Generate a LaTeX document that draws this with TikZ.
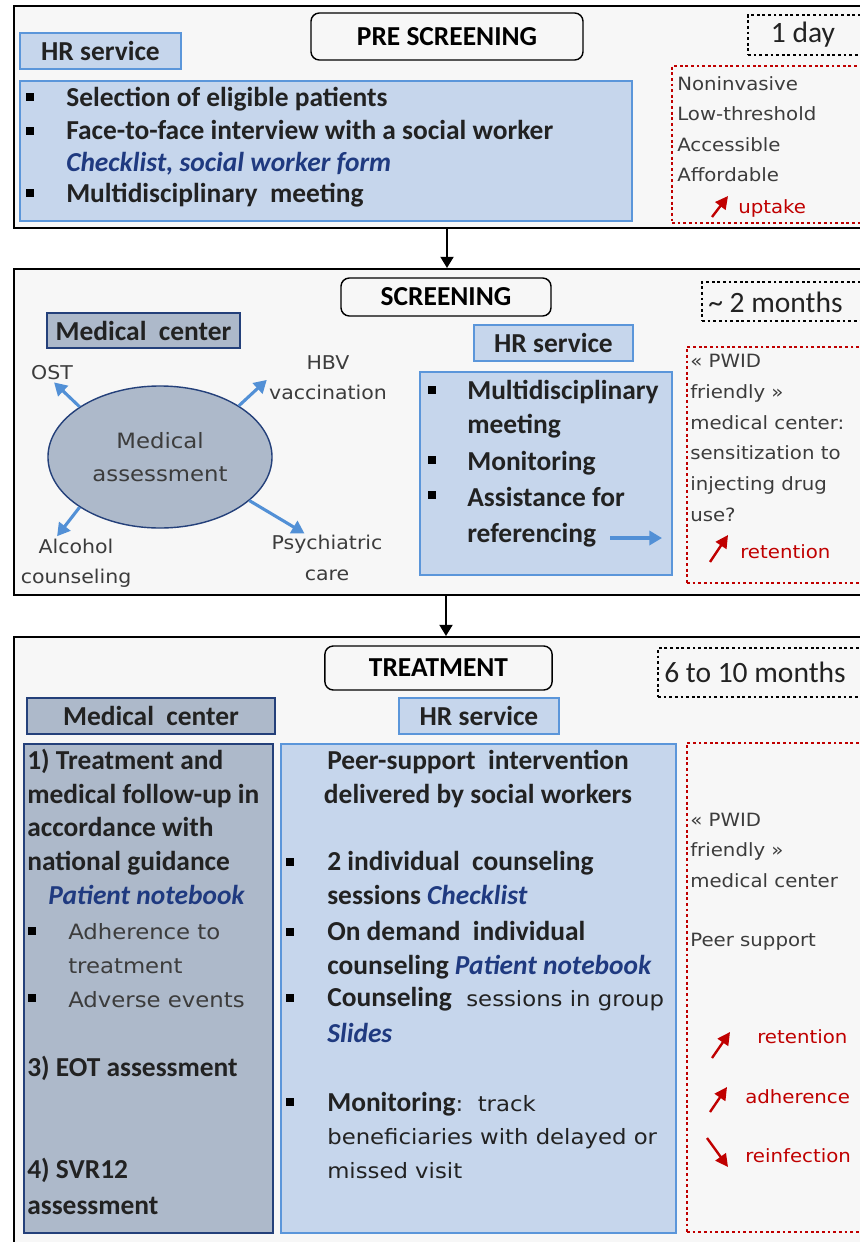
\documentclass[tikz,border=0pt]{standalone}
\usepackage{fontspec}
\setmainfont{Carlito}
\newfontfamily\litefont[FakeStretch=1.08]{DejaVu Sans}
\usetikzlibrary{arrows.meta,fit,shapes.geometric}
\definecolor{panelbg}{HTML}{F7F7F7}
\definecolor{txt}{HTML}{222222}
\definecolor{ltxt}{HTML}{3C3C3C}
\definecolor{hrfill}{HTML}{C6D6EC}
\definecolor{hrline}{HTML}{5B96DA}
\definecolor{mcfill}{HTML}{ADB9CA}
\definecolor{mcline}{HTML}{24407A}
\definecolor{noteblue}{HTML}{1F3A80}
\definecolor{effred}{HTML}{C00000}
\definecolor{arrblue}{HTML}{5290D6}
\newcommand\bsz[1]{\fontsize{19.5}{#1}\selectfont\bfseries}
\newcommand\lsz[2]{\litefont\fontsize{#1}{#2}\selectfont\mdseries\upshape}
\newcommand\tool[1]{{\color{noteblue}\bfseries\itshape #1}}
\tikzset{
  panel/.style={draw=black,line width=1.3pt,fill=panelbg,inner sep=0pt},
  stagebox/.style={draw=black,line width=1pt,rounded corners=6pt,fill=panelbg,font=\bsz{23},text=black},
  hrtag/.style={draw=hrline,line width=1pt,fill=hrfill,font=\bsz{23},text=txt},
  mctag/.style={draw=mcline,line width=1pt,fill=mcfill,font=\bsz{23},text=txt},
  hrarea/.style={draw=hrline,line width=1pt,fill=hrfill,inner sep=0pt},
  mcarea/.style={draw=mcline,line width=1pt,fill=mcfill,inner sep=0pt},
  durbox/.style={draw=black,line width=2pt,dash pattern=on 2pt off 2pt,inner sep=0pt},
  effbox/.style={draw=effred,line width=2pt,dash pattern=on 2pt off 2pt,inner sep=0pt},
  dtxt/.style={font=\fontsize{21}{25}\selectfont,text=txt,inner sep=0pt},
  bt/.style={font=\bsz{22.7},text=txt,inner sep=0pt,align=left,anchor=base west},
  lt/.style={font=\lsz{13}{21.6},text=ltxt,inner sep=0pt,align=left},
  rt/.style={lt,text=effred,anchor=base west},
  bsq/.style={fill=black,minimum size=5pt,inner sep=0pt},
  mcell/.style={ellipse,draw=mcline,line width=1pt,fill=mcfill,minimum width=5.6cm,minimum height=3.55cm,
    inner sep=0pt,font=\lsz{15}{23},text=ltxt,align=center},
  barrow/.style={draw=arrblue,line width=2.2pt,shorten >=2pt,-{Triangle[length=9pt,width=10pt]}},
  rarrow/.style={draw=effred,line width=1.7pt,-{Triangle[length=9pt,width=9pt]}},
  flow/.style={draw=black,line width=2pt,-{Triangle[length=8pt,width=9pt]}}
}
\begin{document}
\begin{tikzpicture}[x=0.025cm,y=-0.025cm]
\useasboundingbox (0,0) rectangle (860,1242);
% pre screening
\node[panel,fit={(14,6) (880,228)}] (pre) {};
\node[stagebox,minimum width=6.8cm,minimum height=1.175cm] (pretitle) at (447,36.5) {PRE SCREENING};
\node[durbox,fit={(748,15) (880,55)}] (preday) {};
\node[dtxt] (predaytxt) at (803,35) {1 day};
\node[hrtag,minimum width=4.03cm,minimum height=0.9cm] (prehr) at (100.5,51) {HR service};
\node[hrarea,fit={(20,81) (632,221)}] (prebox) {};
\foreach \y [count=\i] in {97,131,193}
  \node[bsq] (preb\i) at (30,\y) {};
\node[bt] (pret1) at (66,107) {Selection of eligible patients};
\node[bt] (pret2) at (66,171) {Face-to-face interview with a social worker\\\tool{Checklist, social worker form}};
\node[bt] (pret3) at (66,202) {Multidisciplinary\ \ meeting};
\node[effbox,fit={(672,66) (880,223)}] (preeff) {};
\node[lt,anchor=base west] (preefftxt) at (677,181.5) {Noninvasive\\Low-threshold\\Accessible\\Affordable};
\coordinate (preup) at (712,217);
\draw[rarrow] (preup) -- ++(16,-21);
\node[rt] (preupt) at (738,213) {uptake};
% screening
\node[panel,fit={(14,269) (880,595)}] (scr) {};
\node[stagebox,minimum width=5.25cm,minimum height=0.95cm] (scrtitle) at (446,297) {SCREENING};
\node[durbox,fit={(702,282) (880,321)}] (scrdur) {};
\node[dtxt,anchor=west] (scrdurtxt) at (708,302) {\textasciitilde\ 2 months};
\node[mctag,minimum width=4.83cm,minimum height=0.875cm] (scrmc) at (143.5,330.5) {Medical\ \ center};
\node[mcell] (ell) at (160,457) {Medical\\assessment};
\node[lt,font=\lsz{13.5}{21.5}] (ost) at (52,373) {OST};
\node[lt,font=\lsz{13.5}{21.5},align=center] (hbv) at (328,378) {HBV\\vaccination};
\node[lt,font=\lsz{13.5}{21.5},align=center] (alc) at (76,563) {Alcohol\\counseling};
\node[lt,font=\lsz{13.5}{22},align=center] (psy) at (327,558) {Psychiatric\\care};
\draw[barrow] (ell.148) -- (ost.south);
\draw[barrow] (ell.33) -- (hbv.west);
\draw[barrow] (ell.212) -- (alc.130);
\draw[barrow] (ell.334) -- (psy.131);
\node[hrtag,minimum width=3.98cm,minimum height=0.9cm] (scrhr) at (553.5,343) {HR service};
\node[hrarea,fit={(420,372) (672,575)}] (scrbox) {};
\foreach \y [count=\i] in {390,460,495}
  \node[bsq] (scrb\i) at (432,\y) {};
\node[bt,font=\bsz{24.5}] (scrt1) at (467,433.5) {Multidisciplinary\\meeting};
\node[bt] (scrt2) at (467,470) {Monitoring};
\node[bt,font=\bsz{25.5}] (scrt3) at (467,542) {Assistance for\\referencing};
\coordinate (refer) at (610,538);
\draw[barrow,shorten >=0pt] (refer) -- ++(52,0);
\node[effbox,fit={(687,347) (880,583)}] (screff) {};
\node[lt,font=\lsz{13}{21.8},anchor=base west] (screfftxt) at (690,521)
  {«~PWID\\friendly~»\\medical center:\\sensitization to\\injecting drug\\use?};
\coordinate (scrup) at (710,562);
\draw[rarrow] (scrup) -- ++(18,-27);
\node[rt] (scrret) at (740,558) {retention};
% treatment
\node[panel,fit={(14,637) (880,1260)}] (trt) {};
\node[stagebox,minimum width=5.68cm,minimum height=1.1cm] (trttitle) at (438.5,668) {TREATMENT};
\node[durbox,fit={(658,648) (880,697)}] (trtdur) {};
\node[dtxt,anchor=west] (trtdurtxt) at (664,672) {6 to 10 months};
\node[mctag,minimum width=6.2cm,minimum height=0.9cm] (trtmc) at (151,716) {Medical\ \ center};
\node[hrtag,minimum width=4cm,minimum height=0.9cm] (trthr) at (479,716) {HR service};
\node[mcarea,fit={(24,744) (273,1233)}] (mcbox) {};
\node[hrarea,fit={(281,744) (676,1233)}] (hrbox) {};
\node[effbox,fit={(687,743) (880,1232)}] (trteff) {};
% medical center column
\node[bt,font=\bsz{24}] (mct1) at (27,870.5) {1) Treatment and\\medical follow-up in\\accordance with\\national guidance};
\node[bt] (mct2) at (48,904) {\tool{Patient notebook}};
\foreach \y [count=\i] in {931,998}
  \node[bsq] (mcb\i) at (32,\y) {};
\node[lt,font=\lsz{15}{24},anchor=base west] (mct3) at (68,973) {Adherence to\\treatment};
\node[lt,font=\lsz{15}{24},anchor=base west] (mct4) at (68,1007) {Adverse events};
\node[bt] (mct5) at (27,1076) {3) EOT assessment};
\node[bt,font=\bsz{25}] (mct6) at (27,1214) {4) SVR12\\assessment};
% HR service column
\node[bt,font=\bsz{24},align=center,anchor=base] (hrt0) at (478,803) {Peer-support\ \ intervention\\delivered by social workers};
\foreach \y [count=\i] in {862,932,998,1102}
  \node[bsq] (hrb\i) at (290,\y) {};
\node[bt,font=\bsz{23.5}] (hrt1) at (327,904) {2 individual\ \ counseling\\sessions \tool{Checklist}};
\node[bt,font=\bsz{24}] (hrt2) at (327,974) {On demand\ \ individual\\counseling \tool{Patient notebook}};
\node[bt,font=\bsz{25}] (hrt3) at (327,1042) {Counseling\lsz{15}{24} \ sessions in group\\\tool{Slides}};
\node[bt,font=\bsz{23.5}] (hrt4) at (327,1178)
  {Monitoring\lsz{15}{24}:\ \ track\\\lsz{15}{24}beneficiaries with delayed or\\\lsz{15}{24}missed visit};
% effects
\node[lt,anchor=base west] (trtefft) at (690,887) {«~PWID\\friendly~»\\medical center};
\node[lt,anchor=base west] (peer) at (690,946) {Peer support};
\coordinate (trtup1) at (712,1058);
\draw[rarrow] (trtup1) -- ++(18,-26);
\node[rt] (trtret) at (757,1043) {retention};
\coordinate (trtup2) at (710,1112);
\draw[rarrow] (trtup2) -- ++(17,-25);
\node[rt] (trtadh) at (745,1103) {adherence};
\coordinate (trtdn) at (707,1138);
\draw[rarrow] (trtdn) -- ++(21,29);
\node[rt] (trtrei) at (745,1162) {reinfection};
% flow between phases
\draw[flow] (pre.south -| pretitle.south) -- (scr.north -| pretitle.south);
\draw[flow] (scr.south -| scrtitle.south) -- (trt.north -| scrtitle.south);
\end{tikzpicture}
\end{document}
